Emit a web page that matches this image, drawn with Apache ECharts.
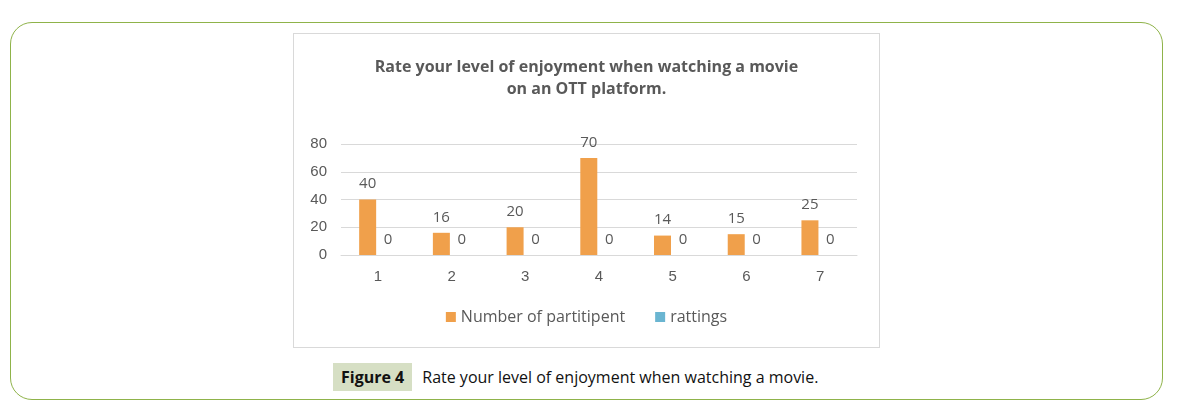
<!DOCTYPE html>
<html lang="en">
<head>
<meta charset="UTF-8">
<title>Figure 4</title>
<script src="https://cdn.jsdelivr.net/npm/echarts@6/dist/echarts.min.js"></script>
<style>
    body { margin: 0; background: #fff; font-family: "Open Sans", sans-serif; }
    #frame { position: absolute; left: 10px; top: 22px; width: 1151px; height: 376px;
             border: 1px solid #8fb34a; border-radius: 22px; }
    #main { position: absolute; left: 293px; top: 33px; width: 587px; height: 315px;
            border: 1px solid #d9d9d9; box-sizing: border-box; }
    #caption { position: absolute; top: 366px; left: 333px; font-size: 16px; color: #111; }
    #caption b { background: #d6dfc4; padding: 3px 8px; margin-right: 10px; }
</style>
</head>
<body>
<div id="frame"></div>
<div id="main"></div>
<div id="caption"><b>Figure 4</b>Rate your level of enjoyment when watching a movie.</div>
<script type="text/javascript">
    var categories = ['1', '2', '3', '4', '5', '6', '7'];
    var participants = [40, 16, 20, 70, 14, 15, 25];
    var ratings = [0, 0, 0, 0, 0, 0, 0];

    var myChart = echarts.init(document.getElementById('main'));
    var labelStyle = { show: true, position: 'top', distance: 8, color: '#595959', fontSize: 15, fontFamily: 'Open Sans' };
    var option = {
        title: {
            text: 'Rate your level of enjoyment when watching a movie\non an OTT platform.',
            left: 'center', top: 17,
            textStyle: { fontSize: 16, fontWeight: 'bold', color: '#595959', lineHeight: 22, fontFamily: 'Open Sans' }
        },
        legend: {
            bottom: 17, itemWidth: 10, itemHeight: 10, itemGap: 30, icon: 'rect',
            textStyle: { fontSize: 16, color: '#595959', fontFamily: 'Open Sans' },
            data: ['Number of partitipent', 'rattings']
        },
        grid: { left: 47, right: 22, top: 110, bottom: 92 },
        xAxis: {
            type: 'category', data: categories,
            axisLine: { lineStyle: { color: '#d9d9d9' } },
            axisTick: { show: false },
            axisLabel: { color: '#595959', fontSize: 15, margin: 14 }
        },
        yAxis: {
            type: 'value', min: 0, max: 80, interval: 20,
            splitLine: { lineStyle: { color: '#d9d9d9' } },
            axisLabel: { color: '#595959', fontSize: 15, margin: 14 }
        },
        series: [
            { name: 'Number of partitipent', type: 'bar', data: participants, barWidth: 17, barGap: '20%',
              itemStyle: { color: '#f0a04b' }, label: labelStyle },
            { name: 'rattings', type: 'bar', data: ratings, barWidth: 17,
              itemStyle: { color: '#6ab5d1' }, label: labelStyle }
        ]
    };
    myChart.setOption(option);
</script>
</body>
</html>
